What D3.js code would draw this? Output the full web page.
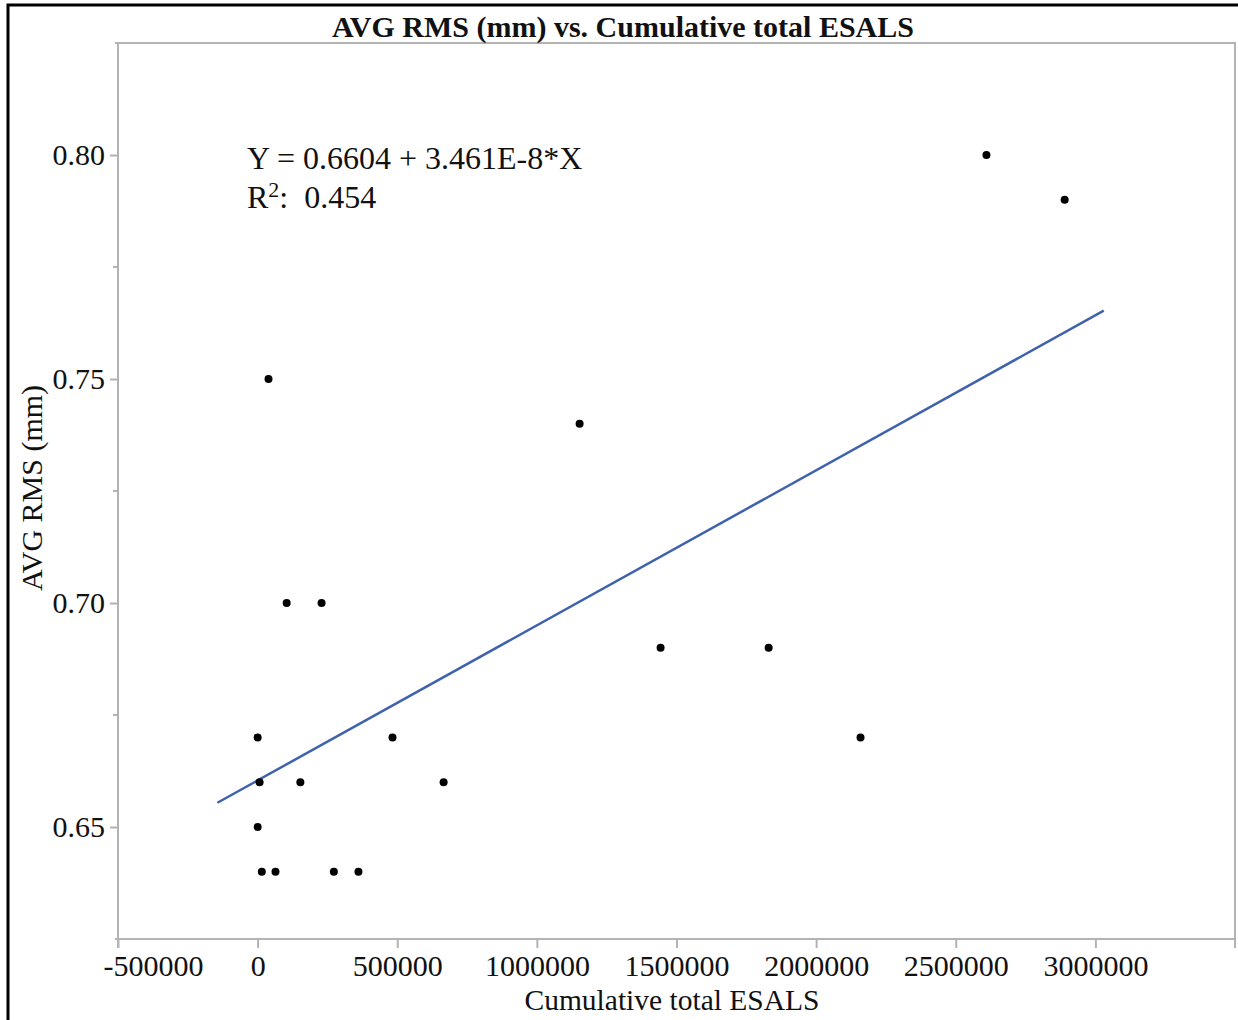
<!DOCTYPE html>
<html>
<head>
<meta charset="utf-8">
<script src="https://cdn.jsdelivr.net/npm/d3@7"></script>
<style>
  html, body { margin: 0; padding: 0; background: #fff; }
  svg { display: block; }
  text { font-family: "Liberation Serif", "Times New Roman", serif; fill: #111; }
</style>
</head>
<body>
<svg id="chart" width="1238" height="1020"></svg>
<script>
// Cumulative ESALs and average RMS (mm) per section
const esals = [2610000, 2890000, 39000, 1153000, 104000, 229000, 1443000, 1830000,
               0, 483000, 2159000, 7000, 153000, 666000, 0, 15000, 64000, 273000, 361000];
const avgRms = [0.80, 0.79, 0.75, 0.74, 0.70, 0.70, 0.69, 0.69,
                0.67, 0.67, 0.67, 0.66, 0.66, 0.66, 0.65, 0.64, 0.64, 0.64, 0.64];

// Linear fit Y = a + b*X and the span it is drawn over
const fitIntercept = 0.6604;
const fitSlope = 3.461e-8;
const fitXRange = [-144000, 3030000];

const xTicks = [-500000, 0, 500000, 1000000, 1500000, 2000000, 2500000, 3000000];
const yTicks = [0.65, 0.70, 0.75, 0.80];
const yMinorTicks = [0.675, 0.725, 0.775];

const titleText = "AVG RMS (mm) vs. Cumulative total ESALS";
const xTitle = "Cumulative total ESALS";
const yTitle = "AVG RMS (mm)";
const eqText = "Y = 0.6604 + 3.461E-8*X";
const r2Value = "0.454";

const svg = d3.select("#chart");
const plotL = 118, plotR = 1235, plotT = 43, plotB = 939;

const x = d3.scaleLinear().domain([-500000, 3500000]).range([plotL, plotR]);
const y = d3.scaleLinear().domain([0.625, 0.825]).range([plotB, plotT]);

// outer frame
svg.append("rect")
  .attr("x", 8).attr("y", 5).attr("width", 1240).attr("height", 1030)
  .attr("fill", "none").attr("stroke", "#000").attr("stroke-width", 3);

const axisColor = "#b3b3b3";

// plot frame (top and right edges)
svg.append("path")
  .attr("d", `M${plotL - 3},${plotT}H${plotR}V${plotB + 9}`)
  .attr("fill", "none").attr("stroke", axisColor).attr("stroke-width", 2);

// x axis (plain hyphen for negatives)
const xAxis = svg.append("g").attr("transform", `translate(0,${plotB})`)
  .call(d3.axisBottom(x).tickValues(xTicks).tickFormat(d => String(d)).tickSizeOuter(0).tickSize(9).tickPadding(7));
xAxis.select(".domain").attr("stroke", axisColor).attr("stroke-width", 2)
  .attr("d", `M${plotL - 3},0H${plotR}`);
xAxis.selectAll(".tick line").attr("stroke", axisColor).attr("stroke-width", 2);
xAxis.selectAll(".tick text").attr("font-size", 30).attr("fill", "#111")
  .attr("font-family", "Liberation Serif, serif");
// first label is kept inside the chart, starting just left of its tick
xAxis.selectAll(".tick text").filter(d => d === xTicks[0])
  .attr("text-anchor", "start").attr("x", -15);

// y axis
const yAxis = svg.append("g").attr("transform", `translate(${plotL},0)`)
  .call(d3.axisLeft(y).tickValues(yTicks).tickFormat(d3.format(".2f")).tickSizeOuter(0).tickSize(8).tickPadding(5));
yAxis.select(".domain").attr("stroke", axisColor).attr("stroke-width", 2)
  .attr("d", `M0,${plotT}V${plotB + 9}`);
yAxis.selectAll(".tick line").attr("stroke", axisColor).attr("stroke-width", 2);
yAxis.selectAll(".tick text").attr("font-size", 30).attr("fill", "#111")
  .attr("font-family", "Liberation Serif, serif");

svg.append("g").selectAll("line").data(yMinorTicks).join("line")
  .attr("x1", plotL - 5).attr("x2", plotL)
  .attr("y1", d => y(d)).attr("y2", d => y(d))
  .attr("stroke", axisColor).attr("stroke-width", 2);

// fitted line
svg.append("line")
  .attr("x1", x(fitXRange[0])).attr("y1", y(fitIntercept + fitSlope * fitXRange[0]))
  .attr("x2", x(fitXRange[1])).attr("y2", y(fitIntercept + fitSlope * fitXRange[1]))
  .attr("stroke", "#4061ad").attr("stroke-width", 2.5);

// points
svg.append("g").selectAll("circle").data(esals.map((e, i) => [e, avgRms[i]])).join("circle")
  .attr("cx", d => x(d[0])).attr("cy", d => y(d[1])).attr("r", 4)
  .attr("fill", "#000");

// titles
svg.append("text").attr("x", 623).attr("y", 37).attr("text-anchor", "middle")
  .attr("font-size", 30).attr("font-weight", "bold").text(titleText);
svg.append("text").attr("x", 672).attr("y", 1010).attr("text-anchor", "middle")
  .attr("font-size", 29.5).text(xTitle);
svg.append("text").attr("transform", "translate(42,488) rotate(-90)").attr("text-anchor", "middle")
  .attr("font-size", 30).text(yTitle);

// fit annotation
svg.append("text").attr("x", 247).attr("y", 169).attr("font-size", 32).text(eqText);
const r2 = svg.append("text").attr("x", 247).attr("y", 208).attr("font-size", 32);
r2.append("tspan").text("R");
r2.append("tspan").attr("font-size", 22).attr("dy", -11).text("2");
r2.append("tspan").attr("dy", 11).text(":\u00a0\u00a0" + r2Value);
</script>
</body>
</html>
